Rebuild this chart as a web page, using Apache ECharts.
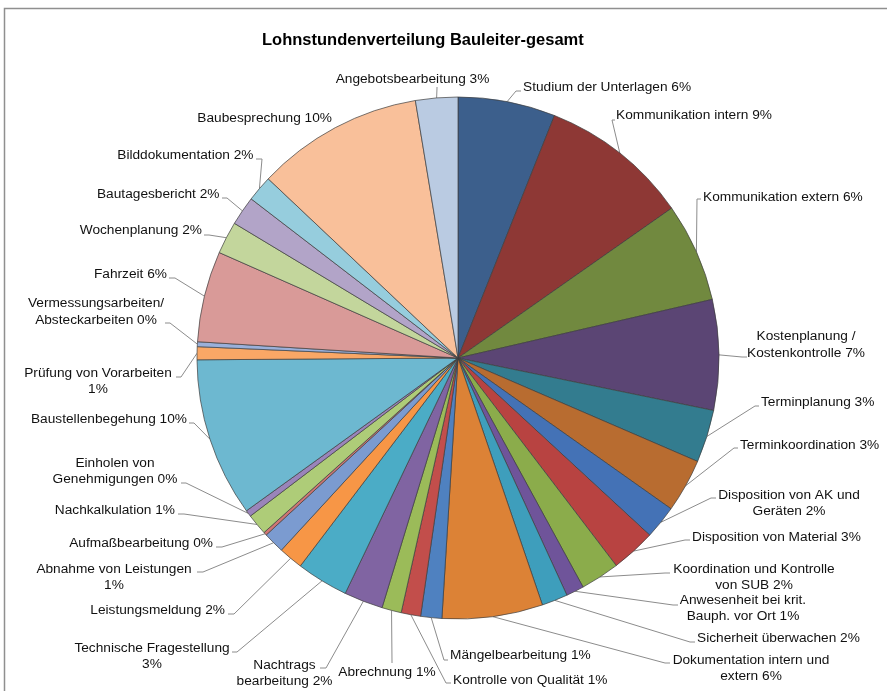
<!DOCTYPE html>
<html>
<head>
<meta charset="utf-8">
<script src="https://cdn.jsdelivr.net/npm/echarts@6/dist/echarts.min.js"></script>
<style>
  html, body { margin: 0; padding: 0; background: #ffffff; }
  #chart { width: 887px; height: 691px; }
</style>
</head>
<body>
<div id="chart"></div>
<script>
// Activities of the site manager (clockwise from 12 o'clock); "\n" marks a line break in the label,
// a trailing "\n" puts the percentage on its own line.
const categories = [
  'Studium der Unterlagen',
  'Kommunikation intern',
  'Kommunikation extern',
  'Kostenplanung /\nKostenkontrolle',
  'Terminplanung',
  'Terminkoordination',
  'Disposition von AK und\nGeräten',
  'Disposition von Material',
  'Koordination und Kontrolle\nvon SUB',
  'Anwesenheit bei krit.\nBauph. vor Ort',
  'Sicherheit überwachen',
  'Dokumentation intern und\nextern',
  'Mängelbearbeitung',
  'Kontrolle von Qualität',
  'Abrechnung',
  'Nachtrags\nbearbeitung',
  'Technische Fragestellung\n',
  'Leistungsmeldung',
  'Abnahme von Leistungen\n',
  'Aufmaßbearbeitung',
  'Nachkalkulation',
  'Einholen von\nGenehmigungen',
  'Baustellenbegehung',
  'Prüfung von Vorarbeiten\n',
  'Vermessungsarbeiten/\nAbsteckarbeiten',
  'Fahrzeit',
  'Wochenplanung',
  'Bautagesbericht',
  'Bilddokumentation',
  'Baubesprechung',
  'Angebotsbearbeitung'
];

// Share of labour hours per activity (%)
const hourShares = [
  6.0, 9.2, 6.1, 6.8, 3.25, 3.3, 2.06, 2.75, 2.4, 1.1, 1.6, 6.2,
  1.3, 1.2, 1.2, 2.4, 3.2, 1.5, 1.3, 0.2, 1.3, 0.4, 9.8, 0.8,
  0.3, 5.6, 2.0, 1.8, 1.6, 10.3, 2.6
];

const sliceColors = [
  '#3c5f8c', '#8e3835', '#71893f', '#5b4574', '#337c8f', '#b86c30',
  '#4472b6', '#b84341', '#8bac4b', '#6f549a', '#3e9ebc', '#dc8236',
  '#4f81c0', '#c24e4b', '#9bbb59', '#8064a2', '#4bacc6', '#f79646',
  '#7b9bd0', '#cf7573', '#aecc78', '#9a84ba', '#6db8d0', '#f9a766',
  '#9ab0da', '#d99a98', '#c3d69c', '#b2a4c8', '#96cddd', '#f9c09a',
  '#bacbe2'
];

// Label placement: [textX, textY, align, lineEndX, lineEndY, bendX, bendY]
const labelPlacement = [
  [523, 87, 'left', 521, 91, 516, 91],
  [616, 115, 'left', 615, 120, 612, 120],
  [703, 197, 'left', 701, 199, 697, 199],
  [806, 344.5, 'center', 747, 357, 742, 357],
  [761, 402, 'left', 759, 406, 755, 406],
  [740, 445, 'left', 738, 448, 734, 448],
  [789, 503, 'center', 716, 498, 711, 498],
  [692, 537, 'left', 690, 540, 685, 540],
  [754, 577, 'center', 670, 573, 665, 573],
  [743, 608, 'center', 678, 605, 673, 605],
  [697, 638, 'left', 695, 642, 690, 642],
  [751, 668, 'center', 670, 663, 665, 663],
  [450, 655, 'left', 448, 660, 444, 660],
  [453, 680, 'left', 451, 683, 446, 683],
  [387, 672, 'center', 392, 663, 392, 662],
  [284.5, 673, 'center', 320, 668, 326, 668],
  [152, 656, 'center', 232, 652, 237, 652],
  [225, 610, 'right', 228, 614, 234, 614],
  [114, 577, 'center', 197, 572, 203, 572],
  [213, 543, 'right', 216, 547, 222, 547],
  [175, 510.5, 'right', 178, 514, 184, 514],
  [115, 471, 'center', 181, 483, 186, 483],
  [187, 419.5, 'right', 189, 423, 194, 423],
  [98, 381, 'center', 176, 377, 181, 377],
  [96, 311.5, 'center', 165, 323, 170, 323],
  [167, 274, 'right', 169, 278, 175, 278],
  [202, 230, 'right', 204, 235, 209, 235],
  [219.5, 194, 'right', 222, 198, 227, 198],
  [253.5, 155, 'right', 256, 159, 262, 159],
  [332, 118, 'right'],
  [412.5, 79, 'center', 437, 87, 437, 88]
];

const FONT = "'Liberation Sans', Arial, sans-serif";

const chart = echarts.init(document.getElementById('chart'), null, { renderer: 'canvas' });

const pieData = categories.map(function (name, i) {
  const item = {
    name: name,
    value: hourShares[i],
    itemStyle: { color: sliceColors[i] }
  };
  if (labelPlacement[i].length < 4) {
    item.labelLine = { show: false };
  }
  return item;
});

chart.setOption({
  animation: false,
  backgroundColor: '#ffffff',
  title: {
    text: 'Lohnstundenverteilung Bauleiter-gesamt',
    left: 262,
    top: 32,
    padding: 0,
    textStyle: {
      fontFamily: FONT,
      fontSize: 16.5,
      fontWeight: 'bold',
      color: '#000000'
    }
  },
  graphic: [
    {
      type: 'polyline',
      silent: true,
      shape: { points: [[4.5, 691], [4.5, 8.5], [887, 8.5]] },
      style: { stroke: '#8f8f8f', lineWidth: 1.5, fill: null }
    }
  ],
  series: [
    {
      type: 'pie',
      center: [458, 358],
      radius: [0, 261],
      startAngle: 90,
      clockwise: true,
      avoidLabelOverlap: false,
      data: pieData,
      itemStyle: {
        borderColor: '#3d3d3d',
        borderWidth: 0.7
      },
      emphasis: { disabled: true },
      label: {
        show: true,
        position: 'outside',
        overflow: 'none',
        fontFamily: FONT,
        fontSize: 13.7,
        lineHeight: 16.5,
        color: '#111111',
        formatter: function (p) {
          const pct = Math.round(p.percent) + '%';
          return p.name.endsWith('\n') ? p.name + pct : p.name + ' ' + pct;
        }
      },
      labelLine: {
        show: true,
        length: 10,
        length2: 10,
        lineStyle: { color: '#8c8c8c', width: 1 }
      },
      labelLayout: function (p) {
        const pl = labelPlacement[p.dataIndex];
        const out = { x: pl[0], y: pl[1], align: pl[2], verticalAlign: 'middle' };
        if (pl.length > 3 && p.labelLinePoints) {
          const edge = p.labelLinePoints[0];
          out.labelLinePoints = [
            [edge[0], edge[1]],
            [pl[5], pl[6]],
            [pl[3], pl[4]]
          ];
        }
        return out;
      }
    }
  ]
});
</script>
</body>
</html>
